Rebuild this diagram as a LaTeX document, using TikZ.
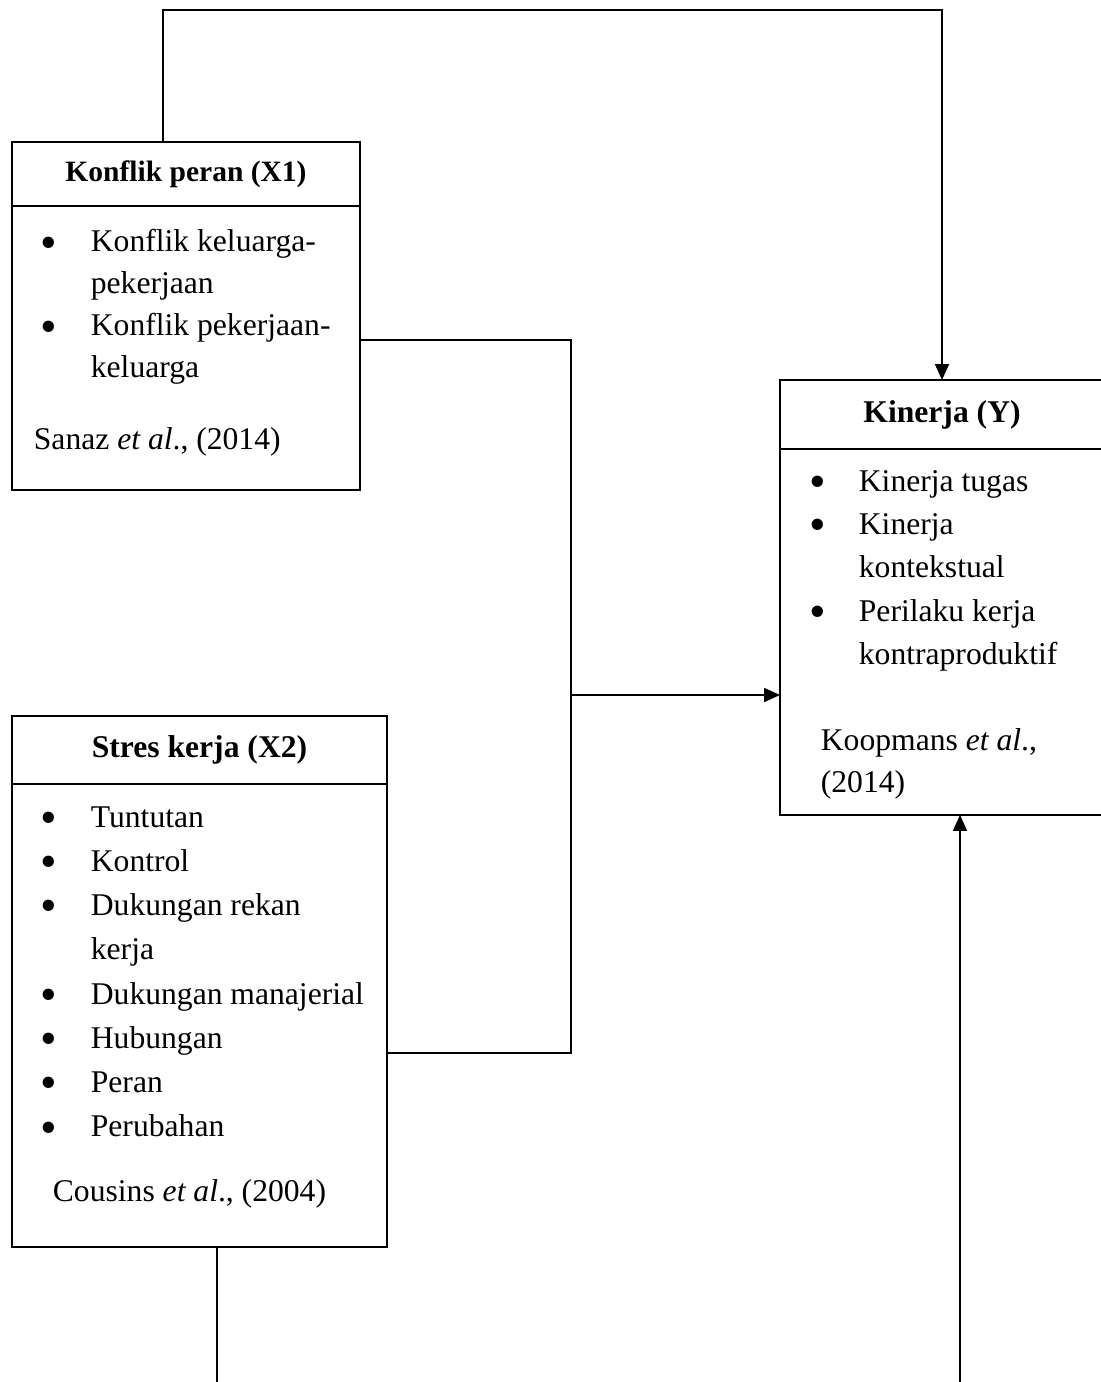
\documentclass[tikz,border=0pt]{standalone}
\usepackage{fontspec}
\usepackage{graphicx}
\setmainfont{Liberation Serif}
\usetikzlibrary{arrows.meta, positioning}

\newcommand{\itembullet}{\makebox[0.2cm][c]{\raisebox{-0.2em}{\scalebox{1.5}{\textbullet}}}}

\begin{document}
\begin{tikzpicture}[
    x=0.02cm, y=-0.02cm,
    line width=1pt,
    font=\fontsize{18pt}{24.4pt}\selectfont,
    box/.style={rectangle, draw, inner sep=0pt, outer sep=0pt},
    title/.style={box, font=\fontsize{18pt}{24.4pt}\selectfont\bfseries},
    list/.style={inner sep=0pt, anchor=base west},
    arrow/.style={-{Triangle[length=0.32cm, width=0.28cm]}}
]
    \useasboundingbox (0,0) rectangle (1100,1382);

    \node[title, font=\fontsize{16.8pt}{24pt}\selectfont\bfseries, minimum width=6.96cm, minimum height=1.28cm] (x1h) at (186,174) {Konflik peran (X1)};
    \node[box, minimum width=6.96cm, minimum height=5.68cm, below=0pt of x1h] (x1b) {};
    \node[list, font=\fontsize{18pt}{23.9pt}\selectfont] (x1list) at (43,252) {\begin{tabular}[t]{@{}p{0.94cm}@{}l@{}}
        \itembullet & Konflik keluarga-\\
                    & pekerjaan\\
        \itembullet & Konflik pekerjaan-\\
                    & keluarga
    \end{tabular}};
    \node[list] (x1cite) at (33,449) {Sanaz \textit{et al}., (2014)};

    \node[title, minimum width=7.5cm, minimum height=1.36cm] (x2h) at (199.5,750) {Stres kerja (X2)};
    \node[box, minimum width=7.5cm, minimum height=9.26cm, below=0pt of x2h] (x2b) {};
    \node[list, font=\fontsize{18pt}{25.2pt}\selectfont] (x2list) at (43,827) {\begin{tabular}[t]{@{}p{0.94cm}@{}l@{}}
        \itembullet & Tuntutan\\
        \itembullet & Kontrol\\
        \itembullet & Dukungan rekan\\
                    & kerja\\
        \itembullet & Dukungan manajerial\\
        \itembullet & Hubungan\\
        \itembullet & Peran\\
        \itembullet & Perubahan
    \end{tabular}};
    \node[list] (x2cite) at (52,1201) {Cousins \textit{et al}., (2004)};

    \node[title, minimum width=6.48cm, minimum height=1.38cm] (yh) at (942,414.5) {Kinerja (Y)};
    \node[box, minimum width=6.48cm, minimum height=7.32cm, below=0pt of yh] (yb) {};
    \node[list, font=\fontsize{18pt}{24.7pt}\selectfont] (ylist) at (812,491) {\begin{tabular}[t]{@{}p{0.92cm}@{}l@{}}
        \itembullet & Kinerja tugas\\
        \itembullet & Kinerja\\
                    & kontekstual\\
        \itembullet & Perilaku kerja\\
                    & kontraproduktif
    \end{tabular}};
    \node[list] (ycite) at (820,750) {\begin{tabular}[t]{@{}l@{}}
        Koopmans \textit{et al}.,\\
        (2014)
    \end{tabular}};

    \coordinate (rail) at (942,10);
    \coordinate (junc) at (571,695);
    \coordinate (endL) at (217,1390);
    \coordinate (endR) at (960,1390);

    \draw[arrow] ([xshift=-0.46cm]x1h.north) |- (rail) -- (yh.north);
    \draw ([yshift=0.16cm]x1b.east) -| (junc);
    \draw ([yshift=-0.75cm]x2b.east) -| (junc);
    \draw[arrow] (junc) -- (junc -| yb.west);
    \draw ([xshift=0.35cm]x2b.south) -- (endL);
    \draw[arrow] (endR) -- (endR |- yb.south);
\end{tikzpicture}
\end{document}
